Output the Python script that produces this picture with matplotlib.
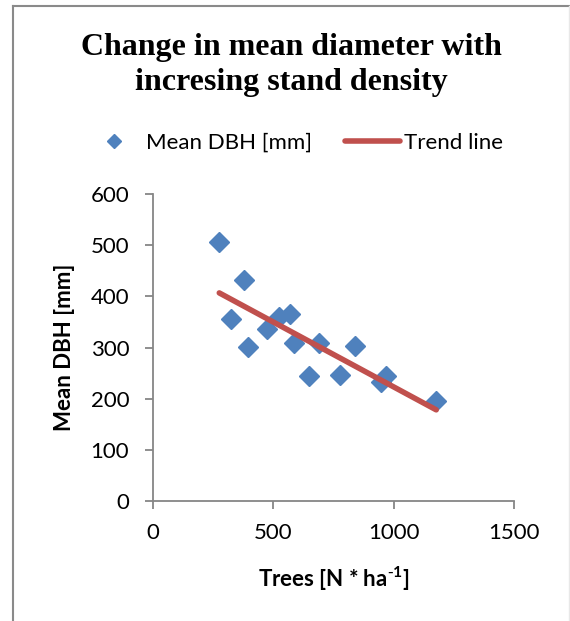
import matplotlib
matplotlib.use("Agg")
import matplotlib.pyplot as plt
from matplotlib.lines import Line2D

# Data
trees = [276, 377, 325, 397, 476, 525, 568, 586, 688, 648, 777, 838, 947, 969, 1176]
mean_dbh = [507, 433, 356, 301, 337, 360, 366, 309, 308, 245, 247, 303, 233, 244, 195]
trend_x = [276, 1176]
trend_y = [407, 178]
x_ticks = [0, 500, 1000, 1500]
y_ticks = [0, 100, 200, 300, 400, 500, 600]

title = "Change in mean diameter with\nincresing stand density"
series_label = "Mean DBH [mm]"
trend_label = "Trend line"
xlabel = "Trees [N * ha$^{\\mathregular{\\text{-}1}}$]"
ylabel = "Mean DBH [mm]"

blue = "#4F81BD"
red = "#C0504D"
gray = "#868686"
sans = ["Lato", "DejaVu Sans"]
serif = ["Liberation Serif", "DejaVu Serif"]

fig = plt.figure(figsize=(5.70, 6.21), dpi=100)
ax = fig.add_axes([0.268, 0.1937, 0.6343, 0.4933])

ax.plot(trees, mean_dbh, linestyle="none", marker="D", markersize=10,
        color=blue, label=series_label, zorder=3)
ax.plot(trend_x, trend_y, color=red, linewidth=4, solid_capstyle="round",
        label=trend_label, zorder=4)

ax.set_xlim(0, 1500)
ax.set_ylim(0, 600)
ax.set_xticks(x_ticks)
ax.set_yticks(y_ticks)
for s in ["top", "right"]:
    ax.spines[s].set_visible(False)
for s in ["left", "bottom"]:
    ax.spines[s].set_color(gray)
    ax.spines[s].set_linewidth(1.3)
ax.tick_params(axis="both", direction="out", length=6, width=1.3, color=gray,
               labelsize=16, labelcolor="black")
ax.tick_params(axis="x", pad=10)
ax.tick_params(axis="y", pad=11)
for lab in ax.get_xticklabels() + ax.get_yticklabels():
    lab.set_fontfamily(sans)

ax.set_xlabel(xlabel, fontsize=16, fontweight="bold", family=sans)
ax.set_ylabel(ylabel, fontsize=16, fontweight="bold", family=sans)
ax.xaxis.set_label_coords(0.5, -0.21)
ax.yaxis.set_label_coords(-0.215, 0.5)

fig.text(0.511, 0.895, title, ha="center", va="center", fontsize=23,
         fontweight="bold", family=serif, linespacing=1.25)

handles, labels = ax.get_legend_handles_labels()
fig.legend(handles, labels, loc="center", bbox_to_anchor=(0.517, 0.7697),
           ncol=2, frameon=False, prop={"family": sans, "size": 16},
           handlelength=2.48, handletextpad=0.18, columnspacing=1.49,
           markerscale=0.75, borderpad=0, numpoints=1)

# chart area border (top and left gray, right very faint)
tf = fig.transFigure
fig.add_artist(Line2D([13 / 570, 13 / 570], [0, 1 - 6 / 621], transform=tf,
                      color="#8a8a8a", linewidth=1.5))
fig.add_artist(Line2D([13 / 570, 569 / 570], [1 - 6 / 621, 1 - 6 / 621], transform=tf,
                      color="#8a8a8a", linewidth=1.5))
fig.add_artist(Line2D([569 / 570, 569 / 570], [0, 1 - 6 / 621], transform=tf,
                      color="#e8e8e8", linewidth=1.0))

fig.savefig("out.png", dpi=100)
